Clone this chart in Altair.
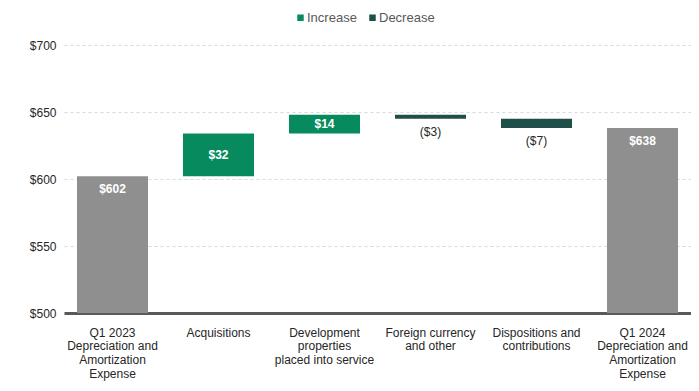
import altair as alt
import pandas as pd

categories = [
    "Q1 2023|Depreciation and|Amortization|Expense",
    "Acquisitions",
    "Development|properties|placed into service",
    "Foreign currency|and other",
    "Dispositions and|contributions",
    "Q1 2024|Depreciation and|Amortization|Expense",
]
amounts = [602, 32, 14, -3, -7, 638]
kinds = ["Total", "Increase", "Increase", "Decrease", "Decrease", "Total"]
labels = ["$602", "$32", "$14", "($3)", "($7)", "$638"]

rows = []
running = 0
for cat, amt, kind, lab in zip(categories, amounts, kinds, labels):
    if kind == "Total":
        start, end = 0, amt
        running = amt
    else:
        start, end = running, running + amt
        running = end
    rows.append(dict(cat=cat, amt=amt, kind=kind, label=lab, start=start, end=end,
                     lo=min(start, end), hi=max(start, end), mid=(start + end) / 2))
df = pd.DataFrame(rows)

FONT = "Liberation Sans"
xenc = alt.X("cat:N", sort=categories, title=None,
             scale=alt.Scale(paddingInner=0.33, paddingOuter=0.1225),
             axis=alt.Axis(labelExpr="split(datum.label, '|')", labelAngle=0,
                           ticks=False, labelPadding=14, domainColor="#595959",
                           domainWidth=3, labelFontSize=12, labelColor="#262626",
                           labelFont=FONT, labelLineHeight=13.8, labelLimit=200))
yscale = alt.Scale(domain=[500, 700], nice=False)

bars = alt.Chart(df).mark_bar(clip=True).encode(
    x=xenc,
    y=alt.Y("start:Q", scale=yscale, title=None,
            axis=alt.Axis(values=[500, 550, 600, 650, 700], format="$.0f", domain=False,
                          ticks=False, labelPadding=8, gridDash=[3, 3], gridColor="#D9D9D9",
                          labelFontSize=12, labelColor="#262626", labelFont=FONT)),
    y2="end:Q",
    color=alt.Color("kind:N",
                    scale=alt.Scale(domain=["Increase", "Decrease", "Total"],
                                    range=["#078B5E", "#1E4F48", "#8F8F8F"]),
                    legend=alt.Legend(values=["Increase", "Decrease"], title=None,
                                      orient="none", legendX=230, legendY=-34,
                                      direction="horizontal", symbolType="square",
                                      symbolSize=42, labelFontSize=13, labelFont=FONT,
                                      labelColor="#595959", labelOffset=0,
                                      columnPadding=9, padding=0, symbolStrokeWidth=0)),
)

tot = alt.Chart(df).transform_filter("datum.kind == 'Total'").mark_text(
    color="white", fontWeight="bold", fontSize=12, font=FONT, dy=13, baseline="middle"
).encode(x=alt.X("cat:N", sort=categories), y=alt.Y("end:Q", scale=yscale), text="label:N")

inc = alt.Chart(df).transform_filter("datum.kind == 'Increase'").mark_text(
    color="white", fontWeight="bold", fontSize=12, font=FONT, baseline="middle"
).encode(x=alt.X("cat:N", sort=categories), y=alt.Y("mid:Q", scale=yscale), text="label:N")

dec = alt.Chart(df).transform_filter("datum.kind == 'Decrease'").mark_text(
    color="#262626", fontSize=12, font=FONT, dy=13, baseline="middle"
).encode(x=alt.X("cat:N", sort=categories), y=alt.Y("lo:Q", scale=yscale), text="label:N")

chart = alt.layer(bars, tot, inc, dec).properties(
    width=627, height=268, autosize="none",
    padding={"left": 56, "top": 37, "right": 0, "bottom": 75},
).configure_view(stroke=None)

chart.save("out.html", embed_options={"renderer": "svg", "actions": False})
